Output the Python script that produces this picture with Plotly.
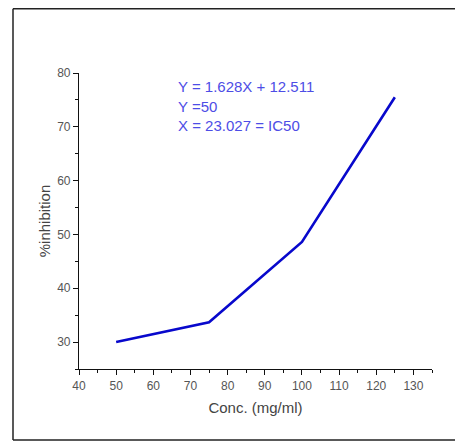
import plotly.graph_objects as go

conc = [50, 75, 100, 125]
inhibition = [30.0, 33.7, 48.6, 75.5]
annotation_lines = ["Y = 1.628X + 12.511", "Y =50", "X = 23.027 = IC50"]

# page body has an 8px margin, so the figure is laid out 8px up/left of reference coords
OFF = 8
W, H = 463 - OFF, 441 - OFF
L, R, T, B = 79 - OFF, 31, 73 - OFF, 72
pw, ph = W - L - R, H - T - B

def px(xp):
    return (xp - OFF - L) / pw

def py(yp):
    return (H - B - (yp - OFF)) / ph

fig = go.Figure()
fig.add_trace(go.Scatter(x=conc, y=inhibition, mode="lines",
                         line=dict(color="#0808cc", width=2.6), showlegend=False))

axis_common = dict(showgrid=False, zeroline=False, showline=True, linecolor="#111",
                   linewidth=1.2, ticks="outside", ticklen=5, tickwidth=1.2, tickcolor="#111",
                   tickfont=dict(family="Liberation Sans, Arial", size=12, color="#555"),
                   mirror=False)

fig.update_xaxes(range=[40, 135], dtick=10, tick0=40,
                 minor=dict(ticks="outside", ticklen=3, dtick=5, tick0=40, tickcolor="#111"),
                 title=dict(text="Conc. (mg/ml)", font=dict(family="Liberation Sans, Arial", size=15, color="#444"), standoff=10),
                 **axis_common)
fig.update_yaxes(range=[25, 80], dtick=10, tick0=30,
                 minor=dict(ticks="outside", ticklen=3, dtick=5, tick0=25, tickcolor="#111"),
                 title=dict(text="%inhibition", font=dict(family="Liberation Sans, Arial", size=15, color="#444"), standoff=2),
                 **axis_common)

fig.add_annotation(x=px(176), y=py(76), xref="paper", yref="paper", xanchor="left", yanchor="top",
                   align="left", showarrow=False,
                   text="<br>".join(annotation_lines),
                   font=dict(family="Liberation Sans, Arial", size=15, color="#4d4de6"))

# outer frame (left, top, bottom)
for (x0, y0, x1, y1) in [(13, 8.7, 13, 440), (13, 8.7, 480, 8.7), (13, 440, 480, 440)]:
    fig.add_shape(type="line", xref="paper", yref="paper",
                  x0=px(x0), y0=py(y0), x1=px(x1), y1=py(y1),
                  line=dict(color="#222", width=1.5))

fig.update_layout(width=W, height=H, margin=dict(l=L, r=R, t=T, b=B),
                  plot_bgcolor="white", paper_bgcolor="white")

fig.write_html("out.html")
